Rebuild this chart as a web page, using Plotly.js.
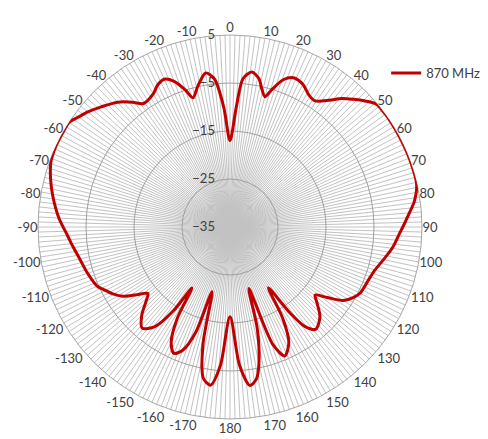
<!DOCTYPE html>
<html>
<head>
<meta charset="utf-8">
<script src="https://cdn.plot.ly/plotly-3.0.1.min.js"></script>
<style>html,body{margin:0;padding:0;background:#fff;}#chart{width:488px;height:439px;}</style>
</head>
<body>
<div id="chart"></div>
<script>
// Angle (degrees, clockwise from top) and gain (dB)
const angles = [-180, -176, -173, -170, -167, -164.5, -162, -159, -156, -153, -150, -148, -146, -143, -139, -135, -131, -129, -126, -123, -120, -116, -114, -108, -102, -97, -93, -87, -80, -75, -70, -65, -60, -57, -54, -51, -47, -42, -38, -35, -30, -27, -24, -21, -18, -16, -13, -9, -6, -3, 0, 3, 5, 8, 11, 13, 15, 17, 20, 23, 27, 31, 34, 38, 41, 44, 47, 50, 54, 60, 65, 70, 77, 82, 86, 90, 92, 97, 102, 107, 112, 117, 120, 123, 126, 128.6, 131, 135, 140, 143, 145, 147.7, 150, 153, 157, 160, 162.9, 165, 168, 170, 172.8, 176, 180];
const gain870 = [-16.3, -6, -1.8, -3, -10, -21, -12, -7.5, -6.2, -8, -13, -20, -14, -9, -7.1, -9, -12, -13, -11, -8.5, -7.0, -5.5, -4.7, -3.8, -3.0, -2, -1.1, 0.7, 2.5, 3.7, 4.7, 5, 5, 5, 4, 3.1, 1.7, 0, -2, -3.6, -3.0, -1.8, -1.3, -2.5, -5, -7.0, -5, -2.5, -4, -10, -17, -10, -4, -2.4, -3.5, -5.5, -6.9, -5, -2.3, -1.2, -1.6, -3.0, -3.3, -1.5, 0.5, 2.0, 3.5, 4.8, 5, 5, 5, 5, 4.9, 3.8, 2.3, 1.0, 0.4, -0.8, -2.3, -3.6, -4.2, -4.6, -5.5, -6.9, -10, -12.3, -11, -8.5, -7.2, -9, -13, -20, -13, -8, -5.8, -9, -21.6, -13, -6, -3, -1.7, -6, -16.3];
const seriesName = "870 MHz";
const radialTicks = [-35, -25, -15, -5, 5];
const angleTicks = [-170, -160, -150, -140, -130, -120, -110, -100, -90, -80, -70, -60, -50, -40, -30, -20, -10, 0, 10, 20, 30, 40, 50, 60, 70, 80, 90, 100, 110, 120, 130, 140, 150, 160, 170, 180];
const angleLabels = angleTicks.map(String);

const spokes = [];
for (let a = 0; a < 360; a += 1.5) spokes.push(a);

const cx = 230, cy = 227, R = 192, W = 488, H = 439;
const dom = {
  x: [(cx - R) / W, (cx + R) / W],
  y: [(H - cy - R) / H, (H - cy + R) / H]
};
const txtFont = {family: "Lato, 'Open Sans', sans-serif", size: 13, color: "#404040"};

const traces = [
  {type: "scatterpolar", subplot: "polar", r: [], theta: [], showlegend: false, hoverinfo: "skip"},
  {
    type: "scatterpolar", subplot: "polar2", name: seriesName,
    r: gain870, theta: angles, mode: "lines",
    line: {color: "#C00000", width: 3, shape: "spline", smoothing: 0.8}
  }
];

const layout = {
  width: W, height: H,
  margin: {l: 0, r: 0, t: 0, b: 0},
  paper_bgcolor: "#ffffff",
  font: txtFont,
  showlegend: true,
  legend: {x: 392 / W - 0.012, y: (H - 73) / H, xanchor: "left", yanchor: "middle",
           font: txtFont, bgcolor: "rgba(0,0,0,0)"},
  polar: {
    domain: dom,
    bgcolor: "#ffffff",
    radialaxis: {
      range: [-35, 5], tickvals: radialTicks, angle: 90, tickangle: 90,
      side: "counterclockwise", showline: false,
      ticks: "outside", ticklen: 10, tickcolor: "rgba(0,0,0,0)",
      gridcolor: "#a0a0a0", gridwidth: 1, tickfont: txtFont
    },
    angularaxis: {
      direction: "clockwise", rotation: 90, thetaunit: "degrees",
      tickvals: spokes, showticklabels: false, ticks: "",
      gridcolor: "#c2c2c2", gridwidth: 1,
      showline: true, linecolor: "#a6a6a6", linewidth: 1
    }
  },
  polar2: {
    domain: dom,
    bgcolor: "rgba(0,0,0,0)",
    radialaxis: {range: [-35, 5], showgrid: false, showline: false, showticklabels: false, ticks: ""},
    angularaxis: {
      direction: "clockwise", rotation: 90, thetaunit: "degrees",
      tickvals: angleTicks.map(v => (v < 0 ? v + 360 : v)), ticktext: angleLabels,
      ticks: "", showgrid: false, showline: false, tickfont: txtFont
    }
  }
};

Plotly.newPlot("chart", traces, layout, {displayModeBar: false, staticPlot: true});
</script>
</body>
</html>
